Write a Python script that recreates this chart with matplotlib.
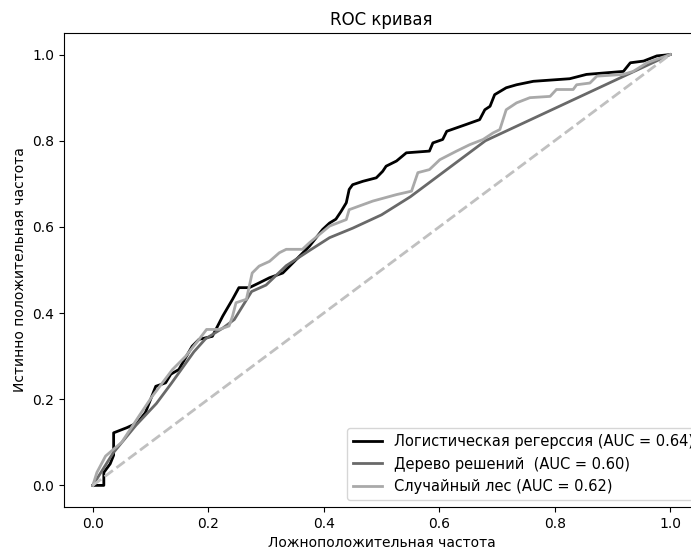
import matplotlib
matplotlib.use('Agg')
import matplotlib.pyplot as plt

# ── Data (FPR, TPR) ──────────────────────────────────────────────────────────
lr_fpr = [0.0, 0.019, 0.019, 0.03, 0.036, 0.036, 0.059, 0.077, 0.091, 0.109,
          0.126, 0.135, 0.149, 0.172, 0.184, 0.207, 0.225, 0.242, 0.253, 0.271,
          0.288, 0.306, 0.329, 0.358, 0.375, 0.398, 0.410, 0.421, 0.430, 0.439,
          0.444, 0.450, 0.468, 0.491, 0.502, 0.508, 0.526, 0.543, 0.583, 0.589,
          0.606, 0.613, 0.647, 0.670, 0.679, 0.688, 0.696, 0.716, 0.734, 0.763,
          0.826, 0.855, 0.919, 0.931, 0.954, 0.977, 1.0]
lr_tpr = [0.0, 0.0, 0.03, 0.05, 0.07, 0.122, 0.134, 0.145, 0.169, 0.230,
          0.238, 0.258, 0.269, 0.323, 0.339, 0.346, 0.393, 0.432, 0.459, 0.459,
          0.470, 0.482, 0.493, 0.532, 0.555, 0.594, 0.609, 0.618, 0.636, 0.656,
          0.687, 0.698, 0.706, 0.714, 0.729, 0.741, 0.753, 0.772, 0.776, 0.795,
          0.803, 0.822, 0.838, 0.849, 0.872, 0.880, 0.907, 0.923, 0.930, 0.938,
          0.944, 0.954, 0.961, 0.981, 0.985, 0.997, 1.0]

dt_fpr = [0.0, 0.035, 0.075, 0.11, 0.135, 0.175, 0.195, 0.225, 0.245, 0.275,
          0.30, 0.335, 0.375, 0.41, 0.45, 0.50, 0.55, 0.60, 0.68, 1.0]
dt_tpr = [0.0, 0.075, 0.14, 0.19, 0.235, 0.31, 0.34, 0.365, 0.385, 0.45,
          0.465, 0.51, 0.545, 0.575, 0.597, 0.628, 0.67, 0.72, 0.80, 1.0]

rf_fpr = [0.0, 0.007, 0.022, 0.05, 0.080, 0.103, 0.138, 0.161, 0.184, 0.197,
          0.219, 0.236, 0.242, 0.248, 0.266, 0.276, 0.288, 0.306, 0.323, 0.335,
          0.363, 0.375, 0.410, 0.439, 0.444, 0.485, 0.526, 0.552, 0.563, 0.583,
          0.601, 0.630, 0.653, 0.676, 0.693, 0.705, 0.716, 0.734, 0.757, 0.792,
          0.803, 0.832, 0.838, 0.861, 0.873, 0.919, 0.936, 0.960, 0.983, 1.0]
rf_tpr = [0.0, 0.03, 0.068, 0.10, 0.161, 0.207, 0.269, 0.300, 0.339, 0.362,
          0.362, 0.370, 0.393, 0.424, 0.432, 0.493, 0.509, 0.520, 0.540, 0.548,
          0.548, 0.563, 0.602, 0.617, 0.640, 0.660, 0.675, 0.683, 0.726, 0.733,
          0.756, 0.776, 0.791, 0.803, 0.818, 0.826, 0.872, 0.888, 0.900, 0.903,
          0.919, 0.919, 0.930, 0.934, 0.950, 0.954, 0.961, 0.981, 0.992, 1.0]

labels = ['Логистическая регерссия (AUC = 0.64)',
          'Дерево решений  (AUC = 0.60)',
          'Случайный лес (AUC = 0.62)']


def main():
    fig = plt.figure(figsize=(6.91, 5.51), dpi=100)
    # right spine sits just past the image edge, like the reference crop
    ax = fig.add_axes([0.0926, 0.080, 0.919, 0.860])

    ax.plot(lr_fpr, lr_tpr, color='black', lw=2, label=labels[0])
    ax.plot(dt_fpr, dt_tpr, color='dimgray', lw=2, label=labels[1])
    ax.plot(rf_fpr, rf_tpr, color='darkgray', lw=2, label=labels[2])
    ax.plot([0, 1], [0, 1], color='silver', lw=2, linestyle='--')

    ax.set_xlabel('Ложноположительная частота')
    ax.set_ylabel('Истинно положительная частота')
    ax.set_title('ROC кривая')
    ax.legend(loc='lower right', fontsize=10.5, bbox_to_anchor=(1.012, 0.0))

    fig.savefig('out.png', dpi=100)
    plt.close(fig)


if __name__ == '__main__':
    main()
